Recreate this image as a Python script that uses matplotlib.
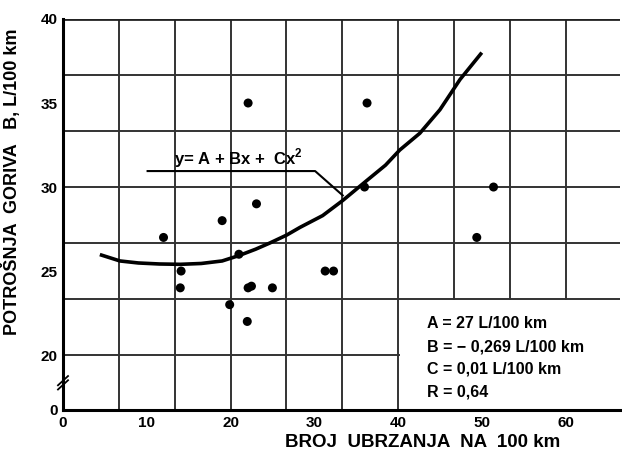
import numpy as np
import matplotlib.pyplot as plt
from matplotlib.patches import Rectangle

# measured points (broj ubrzanja na 100 km, potrosnja goriva L/100 km)
pts_x = [22.1, 36.3, 12.0, 19.0, 23.1, 21.0, 14.1, 14.0, 19.9, 22.0,
         22.1, 22.5, 25.0, 31.3, 32.3, 49.4, 51.4, 36.0]
pts_y = [35.0, 35.0, 27.0, 28.0, 29.0, 26.0, 25.0, 24.0, 23.0, 22.0,
         24.0, 24.1, 24.0, 25.0, 25.0, 27.0, 30.0, 30.0]

# regression curve
curve_x = [4.4, 6.8, 9.0, 11.5, 14.0, 16.5, 19.0, 21.0, 23.0, 24.7, 26.7,
           28.3, 31.0, 33.4, 36.3, 38.5, 40.2, 42.6, 45.0, 47.4, 50.0]
curve_y = [25.98, 25.6, 25.48, 25.42, 25.4, 25.45, 25.6, 25.92, 26.3, 26.67, 27.14,
           27.6, 28.3, 29.2, 30.4, 31.3, 32.2, 33.2, 34.6, 36.4, 38.0]

y_ticks = [20, 25, 30, 35, 40]
x_ticks = [0, 10, 20, 30, 40, 50, 60]
y_zero = 16.73  # where the "0" of the broken axis sits

params = ["A = 27 L/100 km", "B = \u2212 0,269 L/100 km", "C = 0,01 L/100 km", "R = 0,64"]

plt.rcParams['font.family'] = ['Liberation Sans', 'DejaVu Sans']
plt.rcParams['mathtext.fontset'] = 'custom'
plt.rcParams['mathtext.bf'] = 'Liberation Sans:bold'

fig = plt.figure(figsize=(6.22, 4.54), dpi=100)
ax = fig.add_axes([63/622, 44/454, 557/622, 391/454])
ax.set_xlim(0, 66.5)
ax.set_ylim(y_zero, 40)

grid_c = '#333333'
for k in range(1, 11):
    ax.axvline(k*20/3, color=grid_c, lw=1.4, zorder=1)
for k in range(0, 7):
    ax.axhline(20 + k*10/3, color=grid_c, lw=1.4, zorder=1)

# blank area behind the parameter block
ax.add_patch(Rectangle((40.25, y_zero + 0.05), 30, 23.2 - y_zero, facecolor='white',
                       edgecolor='none', zorder=2))

for s in ['right', 'top']:
    ax.spines[s].set_visible(False)
for s in ['left', 'bottom']:
    ax.spines[s].set_linewidth(2.2)
ax.axhline(40, color='#222222', lw=2.0, zorder=1)

ax.set_xticks(x_ticks)
ax.set_xticklabels([str(v) for v in x_ticks])
ax.set_yticks([y_zero] + y_ticks)
ax.set_yticklabels(['0'] + [str(v) for v in y_ticks])
ax.tick_params(length=0, labelsize=11, pad=4)
for lab in ax.get_xticklabels() + ax.get_yticklabels():
    lab.set_fontweight('bold')

ax.plot(curve_x, curve_y, color='black', lw=2.6, zorder=3, solid_capstyle='butt')
ax.scatter(pts_x, pts_y, s=42, color='black', zorder=4, edgecolors='none')

# equation label with leader line
ax.text(20.9, 31.7, "y= A + Bx +  Cx$^{\\mathbf{2}}$", fontsize=12, fontweight='bold',
        ha='center', va='center', zorder=5)
ax.plot([10.1, 30.1, 33.4], [30.95, 30.95, 29.5], color='black', lw=1.5, zorder=5)

# parameter block
for i, t in enumerate(params):
    ax.text(43.4, 21.85 - i*1.35, t, fontsize=11.5, fontweight='bold',
            ha='left', va='center', zorder=5)

# axis break mark
ax.plot([-0.6, 0.6], [18.2, 18.75], color='black', lw=1.3, clip_on=False, zorder=6)
ax.plot([-0.6, 0.6], [17.95, 18.5], color='black', lw=1.3, clip_on=False, zorder=6)

ax.set_xlabel("BROJ  UBRZANJA  NA  100 km", fontsize=13.5, fontweight='bold')
ax.xaxis.set_label_coords(0.645, -0.062)
ax.set_ylabel("POTROŠNJA  GORIVA   B, L/100 km", fontsize=13, fontweight='bold')
ax.yaxis.set_label_coords(-0.075, 0.585)

fig.savefig("out.png", dpi=100)
